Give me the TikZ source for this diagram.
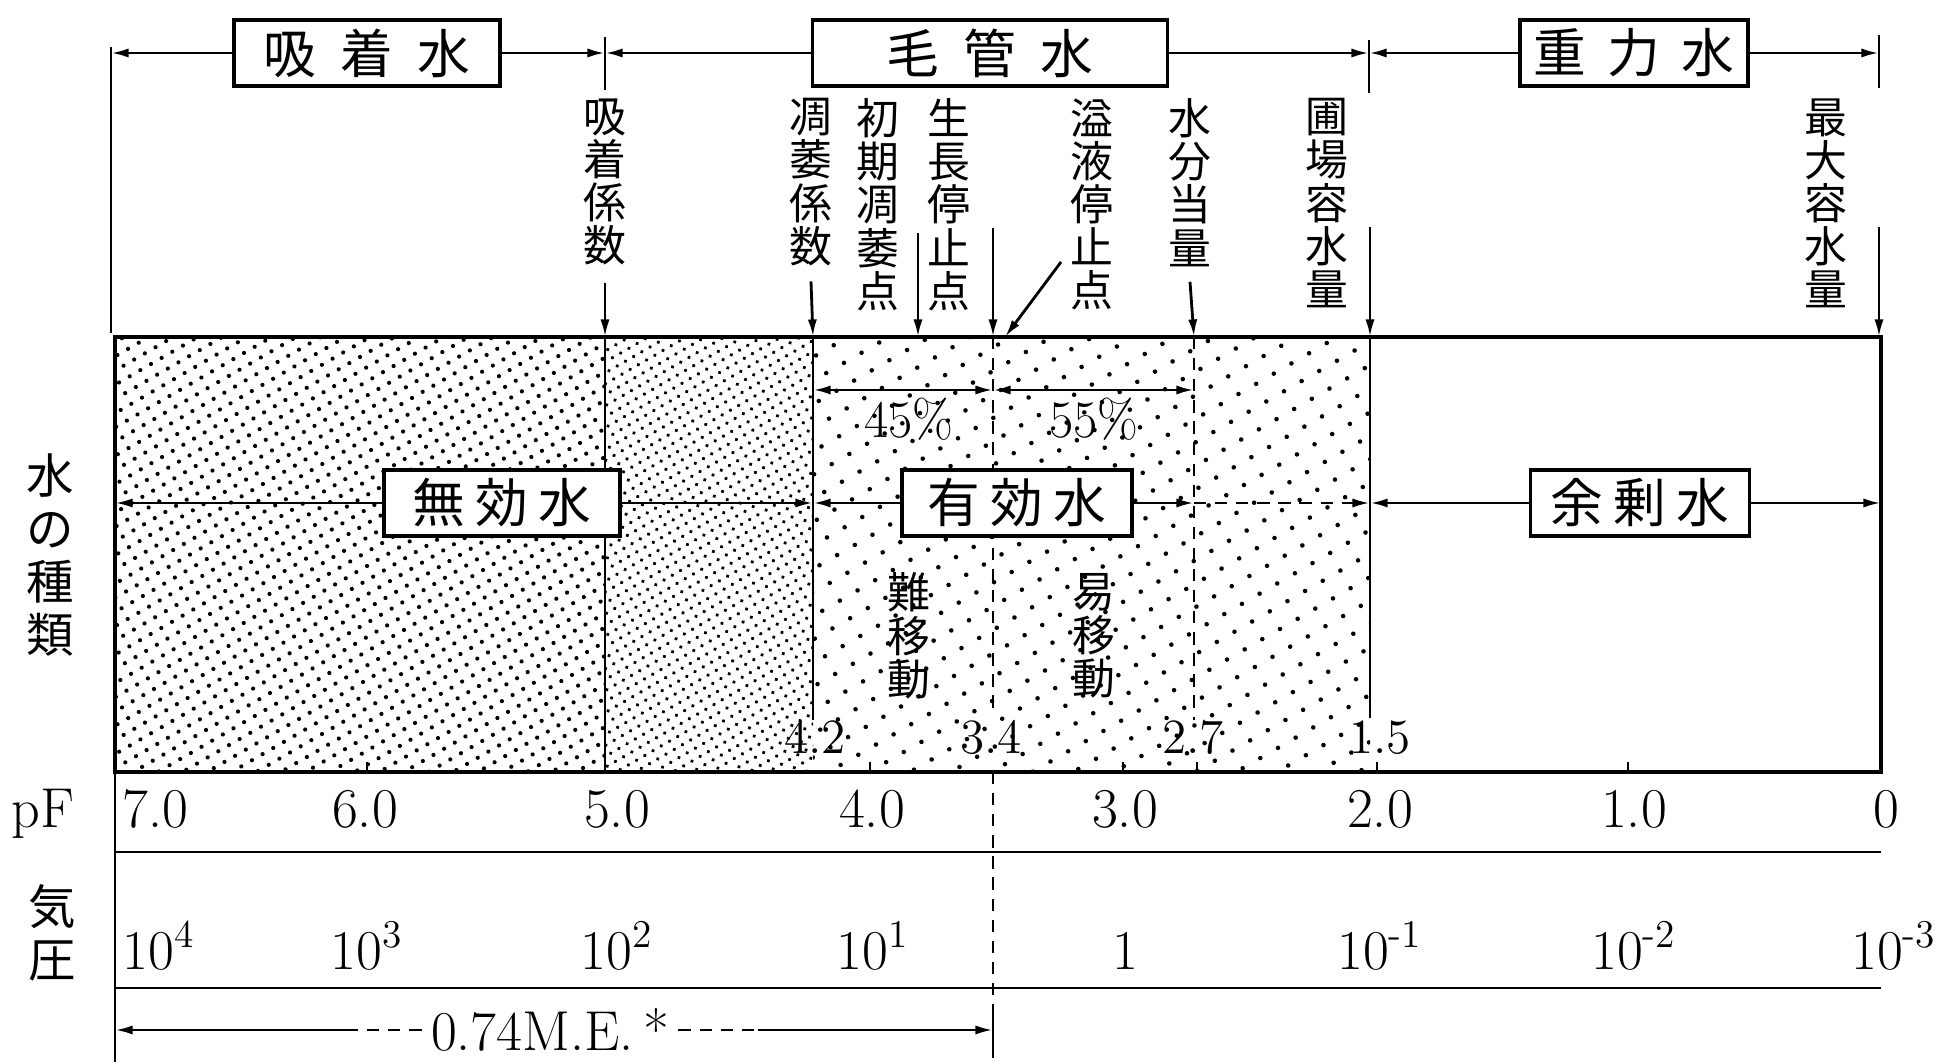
\documentclass[tikz,border=0pt]{standalone}
\usepackage{fontspec}
\newfontfamily\jfont{Noto Sans CJK JP}
\usetikzlibrary{arrows.meta,patterns.meta}

\begin{document}
\begin{tikzpicture}[x=0.1mm,y=-0.1mm,line width=0.8pt,>={Latex[length=5pt,width=2.6pt]}]

\tikzset{WaterBox/.style={draw,line width=1.1pt,fill=white,inner sep=0pt,minimum height=6.6mm,font=\jfont\fontsize{15}{15}\selectfont},};
\tikzset{VertText/.style={align=center,inner sep=0pt,font=\jfont\fontsize{12.2}{12.3}\selectfont},};
\tikzset{SideText/.style={align=center,inner sep=0pt,font=\jfont\fontsize{13.5}{15}\selectfont},};
\tikzset{AxisText/.style={inner sep=0pt,anchor=base,font=\fontsize{16}{16}\selectfont},};
\tikzset{PointText/.style={inner sep=0pt,anchor=base,font=\fontsize{14}{14}\selectfont},};
\tikzset{DashLine/.style={dash pattern=on 3.5pt off 2.5pt},};
%\tikzset{DashLine/.style={dashed}};

\useasboundingbox (0,0) rectangle (1957,1062);

\begin{scope}

% stipple
\fill[pattern={Dots[radius=0.6pt,distance=3.5pt,angle=30]}] (115,337) rectangle (605,772);
\fill[pattern={Dots[radius=0.55pt,distance=2.7pt,angle=30]}] (605,337) rectangle (813,772);
\fill[pattern={Dots[radius=0.65pt,distance=5.8pt,angle=30]}] (813,337) rectangle (1370,772);

\draw[line width=1pt] (115,337) rectangle (1881,772);

% points on the top edge
\coordinate (a50) at (605,337);
\coordinate (a42) at (813,337);
\coordinate (aShoki) at (918,337);
\coordinate (a34) at (993,337);
\coordinate (aIeki) at (1005,337);
\coordinate (a27) at (1194,337);
\coordinate (a15) at (1370,337);
\coordinate (a0) at (1879,337);

\draw (a50) -- (605,772);
\draw (a42) -- (813,720);
\draw[DashLine] (a34) -- (993,712);
\draw[DashLine] (a27) -- (1194,720);
\draw (a15) -- (1370,718);

\foreach \x in {367,870,1123,1197,1377,1628}
  \draw (\x,772) -- ++(0,-10);

\end{scope}

% top row
\draw (111,47) -- (111,333);
\draw (605,37) -- (605,90);
\draw (1369,40) -- (1369,93);
\draw (1879,35) -- (1879,88);
\coordinate (tA) at (111,53);
\coordinate (tB) at (605,53);
\coordinate (tC) at (1369,53);
\coordinate (tD) at (1879,53);

\draw (367,53) node[WaterBox,minimum width=26.6mm] (kyuchaku) {吸\hspace{7pt}着\hspace{7pt}水};
\draw (990,53) node[WaterBox,minimum width=35.5mm] (mokan) {毛\hspace{7pt}管\hspace{7pt}水};
\draw (1634,53) node[WaterBox,minimum width=22.8mm] (juryoku) {重\hspace{6pt}力\hspace{6pt}水};

\draw[->] (kyuchaku) -- (tA);
\draw[->] (kyuchaku) -- (tB);
\draw[->] (mokan) -- (tB);
\draw[->] (mokan) -- (tC);
\draw[->] (juryoku) -- (tC);
\draw[->] (juryoku) -- (tD);

% labels of the points
\draw (605,97) node[VertText,anchor=north] (kkeisu) {吸\\着\\係\\数};
\draw (811,97) node[VertText,anchor=north] (ikeisu) {凋\\萎\\係\\数};
\draw (878,97) node[VertText,anchor=north] (shoki) {初\\期\\凋\\萎\\点};
\draw (949,97) node[VertText,anchor=north] (seicho) {生\\長\\停\\止\\点};
\draw (1092,97) node[VertText,anchor=north] (ieki) {溢\\液\\停\\止\\点};
\draw (1190,97) node[VertText,anchor=north] (tobun) {水\\分\\当\\量};
\draw (1327,97) node[VertText,anchor=north] (hojo) {圃\\場\\容\\水\\量};
\draw (1826,97) node[VertText,anchor=north] (saidai) {最\\大\\容\\水\\量};

\coordinate (sShoki) at (918,233);
\coordinate (sSeicho) at (993,228);
\coordinate (sIeki) at (1061,262);
\coordinate (sHojo) at (1370,227);
\coordinate (sSaidai) at (1879,227);

\draw[->] ([yshift=-1.6mm]kkeisu.south) -- (a50);
\draw[->] ([yshift=-1.4mm]ikeisu.south) -- (a42);
\draw[->] (sShoki) -- (aShoki);
\draw[->] (sSeicho) -- (a34);
\draw[->] (sIeki) -- (aIeki);
\draw[->] ([yshift=-1.4mm]tobun.south) -- (a27);
\draw[->] (sHojo) -- (a15);
\draw[->] (sSaidai) -- (a0);

% 45% / 55%
\coordinate (q42) at (813,390);
\coordinate (q34) at (993,390);
\coordinate (q27) at (1194,390);
\draw[<->] (q42) -- (q34);
\draw[<->] (q34) -- (q27);
\draw (909,438) node[AxisText,font=\fontsize{15}{15}\selectfont] (p45) {45\%};
\draw (1094,438) node[AxisText,font=\fontsize{15}{15}\selectfont] (p55) {55\%};

% kinds of water
\coordinate (m0) at (115,503);
\coordinate (m42) at (813,503);
\coordinate (m27) at (1194,503);
\coordinate (m15) at (1370,503);
\coordinate (mR) at (1881,503);

\draw (502,503) node[WaterBox,minimum width=23.6mm] (muko) {無\hspace{3pt}効\hspace{3pt}水};
\draw (1017,503) node[WaterBox,minimum width=23mm] (yuko) {有\hspace{3pt}効\hspace{3pt}水};
\draw (1640,503) node[WaterBox,minimum width=21.9mm] (yojo) {余\hspace{3pt}剰\hspace{3pt}水};

\draw[->] (muko) -- (m0);
\draw[->] (muko) -- (m42);
\draw[->] (yuko) -- (m42);
\draw[->] (yuko) -- (m27);
\draw[DashLine,->] (m27) -- (m15);
\draw[->] (yojo) -- (m15);
\draw[->] (yojo) -- (mR);

\draw (909,636) node[VertText] (nan) {難\\移\\動};
\draw (1094,636) node[VertText] (i) {易\\移\\動};

% values at the bottom of the box
\draw (815,754) node[PointText] (v42) {4.2};
\draw (991,754) node[PointText] (v34) {3.4};
\draw (1193,754) node[PointText] (v27) {2.7};
\draw (1380,754) node[PointText] (v15) {1.5};

% left titles
\draw (50,555) node[SideText] (shurui) {水\\の\\種\\類};
\draw (52,933) node[SideText] (kiatsu) {気\\圧};
\draw (43,828) node[AxisText] (pf) {pF};

% pF and pressure rows
\draw (115,772) -- (115,1062);
\draw (115,852) -- (1881,852);
\draw (115,988) -- (1881,988);
\draw[DashLine] (993,772) -- (993,1005);
\draw (993,1005) -- (993,1058);

\draw (121,828) node[AxisText,anchor=base west] (pf7) {7.0};
\draw (365,828) node[AxisText] (pf6) {6.0};
\draw (617,828) node[AxisText] (pf5) {5.0};
\draw (872,828) node[AxisText] (pf4) {4.0};
\draw (1125,828) node[AxisText] (pf3) {3.0};
\draw (1380,828) node[AxisText] (pf2) {2.0};
\draw (1634,828) node[AxisText] (pf1) {1.0};
\draw (1886,828) node[AxisText] (pf0) {0};

\draw (121,970) node[AxisText,anchor=base west] (at4) {10\textsuperscript{4}};
\draw (367,970) node[AxisText] (at3) {10\textsuperscript{3}};
\draw (617,970) node[AxisText] (at2) {10\textsuperscript{2}};
\draw (873,970) node[AxisText] (at1) {10\textsuperscript{1}};
\draw (1125,970) node[AxisText] (at0) {1};
\draw (1380,970) node[AxisText] (atm1) {10\textsuperscript{-1}};
\draw (1634,970) node[AxisText] (atm2) {10\textsuperscript{-2}};
\draw (1894,970) node[AxisText] (atm3) {10\textsuperscript{-3}};

% moisture equivalent
\coordinate (meL) at (115,1030);
\coordinate (meR) at (993,1030);
\draw (550,1030) node[AxisText,anchor=center,inner sep=2.3pt] (me) {0.74M.E.\,*};
\draw[DashLine] (me.west) -- ++(-70,0) coordinate (meDL);
\draw[->] (meDL) -- (meDL -| meL);
\draw[DashLine] (me.east) -- ++(80,0) coordinate (meDR);
\draw[->] (meDR) -- (meDR -| meR);

\end{tikzpicture}
\end{document}
